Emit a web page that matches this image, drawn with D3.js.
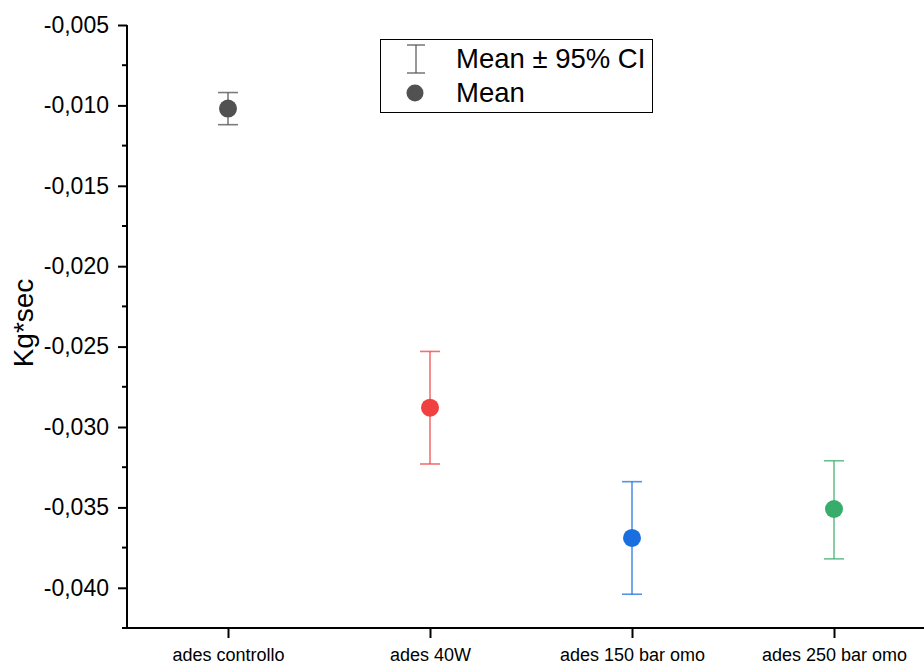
<!DOCTYPE html>
<html>
<head>
<meta charset="utf-8">
<script src="https://cdn.jsdelivr.net/npm/d3@7"></script>
<style>
  html, body { margin: 0; padding: 0; background: #fff; }
  svg { display: block; font-family: "Liberation Sans", Arial, sans-serif; }
</style>
</head>
<body>
<svg id="chart" width="924" height="664"></svg>
<script>
// Groups and their mean with 95% confidence bounds
const categories = ["ades controllo", "ades 40W", "ades 150 bar omo", "ades 250 bar omo"];
const means = [-0.0102, -0.0288, -0.0369, -0.0351];
const ciUpper = [-0.0092, -0.0253, -0.0334, -0.0321];
const ciLower = [-0.0112, -0.0323, -0.0404, -0.0382];
const colors = ["#515151", "#F14040", "#1A6FDF", "#37AD6B"];
const yTicks = [-0.005, -0.010, -0.015, -0.020, -0.025, -0.030, -0.035, -0.040];
const yMinorTicks = [-0.0075, -0.0125, -0.0175, -0.0225, -0.0275, -0.0325, -0.0375, -0.0425];
const yTitle = "Kg*sec";
const legendLabels = ["Mean \u00b1 95% CI", "Mean"];

const svg = d3.select("#chart");
const plotLeft = 127, plotTop = 25, plotBottom = 628, plotRight = 935;

const x = d3.scalePoint().domain(categories).range([plotLeft, plotRight]).padding(0.5);
const y = d3.scaleLinear().domain([-0.0425, -0.005]).range([plotBottom, plotTop]);

const fmt = v => d3.format(".3f")(v).replace(".", ",").replace("\u2212", "-");

// Y axis
const yAxis = svg.append("g").attr("transform", `translate(${plotLeft},0)`)
  .call(d3.axisLeft(y).tickValues(yTicks).tickSize(9).tickPadding(9).tickFormat(fmt));
yAxis.select(".domain").remove();
yAxis.selectAll(".tick line").attr("stroke", "#000").attr("stroke-width", 2);
yAxis.selectAll(".tick text").attr("font-size", 23).attr("fill", "#000")
  .attr("font-family", "Liberation Sans, Arial, sans-serif");
svg.append("g").attr("transform", `translate(${plotLeft},0)`)
  .selectAll("line").data(yMinorTicks).join("line")
  .attr("x1", -5).attr("x2", 0)
  .attr("y1", d => y(d)).attr("y2", d => y(d))
  .attr("stroke", "#000").attr("stroke-width", 2);

// X axis
const xAxis = svg.append("g").attr("transform", `translate(0,${plotBottom})`)
  .call(d3.axisBottom(x).tickSize(10).tickPadding(10));
xAxis.select(".domain").remove();
xAxis.selectAll(".tick line").attr("stroke", "#000").attr("stroke-width", 2);
xAxis.selectAll(".tick text").attr("font-size", 18).attr("fill", "#000")
  .attr("font-family", "Liberation Sans, Arial, sans-serif");

// Axis lines
svg.append("line").attr("x1", plotLeft).attr("x2", plotLeft).attr("y1", plotTop).attr("y2", plotBottom + 1)
  .attr("stroke", "#000").attr("stroke-width", 2);
svg.append("line").attr("x1", plotLeft - 1).attr("x2", 924).attr("y1", plotBottom).attr("y2", plotBottom)
  .attr("stroke", "#000").attr("stroke-width", 2);

// Y title
svg.append("text")
  .attr("transform", `translate(33,323) rotate(-90)`)
  .attr("text-anchor", "middle")
  .attr("font-size", 28)
  .text(yTitle);

// Error bars and means
const rows = categories.map((c, i) => ({ c, m: means[i], hi: ciUpper[i], lo: ciLower[i], col: colors[i] }));
const g = svg.append("g");
const eb = g.selectAll("g.eb").data(rows).join("g").attr("class", "eb")
  .attr("stroke", d => d.col).attr("stroke-opacity", 0.75).attr("stroke-width", 1.6);
eb.append("line").attr("x1", d => x(d.c)).attr("x2", d => x(d.c))
  .attr("y1", d => y(d.hi)).attr("y2", d => y(d.lo));
eb.append("line").attr("x1", d => x(d.c) - 10).attr("x2", d => x(d.c) + 10)
  .attr("y1", d => y(d.hi)).attr("y2", d => y(d.hi));
eb.append("line").attr("x1", d => x(d.c) - 10).attr("x2", d => x(d.c) + 10)
  .attr("y1", d => y(d.lo)).attr("y2", d => y(d.lo));
g.selectAll("circle").data(rows).join("circle")
  .attr("cx", d => x(d.c)).attr("cy", d => y(d.m)).attr("r", 9)
  .attr("fill", d => d.col);

// Legend
const lg = svg.append("g");
lg.append("rect").attr("x", 380.5).attr("y", 39.5).attr("width", 272).attr("height", 73)
  .attr("fill", "#fff").attr("stroke", "#000").attr("stroke-width", 1);
const ic = lg.append("g").attr("stroke", "#515151").attr("stroke-opacity", 0.75).attr("stroke-width", 1.6);
ic.append("line").attr("x1", 416).attr("x2", 416).attr("y1", 45).attr("y2", 73);
ic.append("line").attr("x1", 407).attr("x2", 425).attr("y1", 45).attr("y2", 45);
ic.append("line").attr("x1", 407).attr("x2", 425).attr("y1", 73).attr("y2", 73);
lg.append("circle").attr("cx", 415).attr("cy", 93).attr("r", 8.5).attr("fill", "#515151");
lg.selectAll("text").data(legendLabels).join("text")
  .attr("x", 456).attr("y", (d, i) => 68 + i * 34)
  .attr("font-size", 27.5).attr("fill", "#000")
  .text(d => d);
</script>
</body>
</html>
